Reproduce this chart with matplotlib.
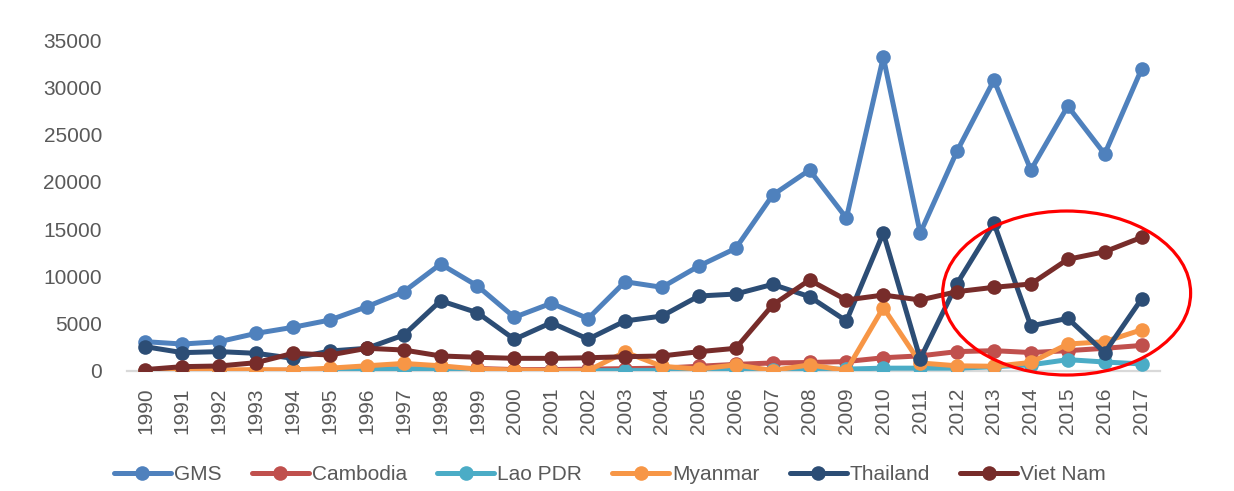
import matplotlib
matplotlib.use("Agg")
import matplotlib.pyplot as plt
from matplotlib.patches import Ellipse

years = [str(y) for y in range(1990, 2018)]

gms = [3100, 2850, 3100, 3980, 4620, 5390, 6800, 8380, 11310, 8990, 5680, 7160, 5550,
       9440, 8850, 11100, 12970, 18600, 21250, 16170, 33190, 14570, 23260, 30760,
       21250, 28010, 22940, 31920]
cambodia = [10, 20, 50, 60, 100, 160, 290, 200, 250, 270, 150, 150, 200, 250, 300, 500,
            700, 850, 900, 1000, 1400, 1600, 2050, 2150, 1950, 2150, 2400, 2700]
lao = [10, 10, 10, 30, 60, 90, 160, 200, 250, 100, 50, 40, 30, 40, 50, 50, 100, 150,
       200, 200, 300, 300, 300, 450, 650, 1200, 950, 750]
myanmar = [20, 100, 100, 150, 100, 300, 550, 800, 550, 200, 100, 50, 50, 2000, 500, 200,
           650, 50, 650, 50, 6700, 850, 550, 500, 900, 2850, 3100, 4350]
thailand = [2570, 1940, 2050, 1870, 1340, 2110, 2400, 3800, 7430, 6160, 3350, 5110, 3370,
            5290, 5810, 7930, 8140, 9160, 7860, 5290, 14590, 1280, 9250, 15610, 4760,
            5570, 1940, 7610]
vietnam = [150, 460, 530, 880, 1870, 1690, 2400, 2220, 1590, 1450, 1340, 1340, 1400,
           1510, 1590, 2040, 2400, 6980, 9620, 7510, 8030, 7510, 8390, 8850, 9200,
           11810, 12610, 14130]

series_names = ["GMS", "Cambodia", "Lao PDR", "Myanmar", "Thailand", "Viet Nam"]
series_values = [gms, cambodia, lao, myanmar, thailand, vietnam]
colors = ["#4F81BD", "#C0504D", "#4BACC6", "#F79646", "#2C4D75", "#772C2A"]
yticks = [0, 5000, 10000, 15000, 20000, 25000, 30000, 35000]

plt.rcParams['font.family'] = ['Liberation Sans', 'DejaVu Sans']
text_color = "#595959"

fig = plt.figure(figsize=(12.34, 4.91), dpi=100)
ax = fig.add_axes([127 / 1234, 1 - 371 / 491, (1160 - 127) / 1234, (371 - 40) / 491])

x = list(range(len(years)))
for name, vals, c in zip(series_names, series_values, colors):
    ax.plot(x, vals, color=c, lw=3.6, marker='o', markersize=10.5,
            markeredgewidth=0, label=name, solid_joinstyle='round',
            solid_capstyle='round')

ax.set_xlim(-0.5, len(years) - 0.5)
ax.set_ylim(0, 35000)
ax.set_yticks(yticks)
ax.set_yticklabels([str(v) for v in yticks])
ax.set_xticks(x)
ax.set_xticklabels(years, rotation=90)
ax.tick_params(axis='both', length=0, labelsize=15, colors=text_color)
ax.tick_params(axis='y', pad=18)
ax.tick_params(axis='x', pad=12)
for side in ['top', 'right', 'left']:
    ax.spines[side].set_visible(False)
ax.spines['bottom'].set_color('#D9D9D9')
ax.spines['bottom'].set_linewidth(1.6)
ax.spines['bottom'].set_zorder(0.5)

# red highlight ellipse
ell = Ellipse((24.97, 8245), width=6.72, height=17340, fill=False,
              edgecolor='#FF0000', lw=2.3, clip_on=False, zorder=10)
ax.add_patch(ell)

leg = fig.legend(loc='center', bbox_to_anchor=(610 / 1234, 1 - 475 / 491), ncol=6,
                 frameon=False, fontsize=15, handlelength=2.74, handletextpad=0.15,
                 columnspacing=1.44, borderaxespad=0, borderpad=0)
for t in leg.get_texts():
    t.set_color(text_color)

fig.savefig("out.png", dpi=100)
